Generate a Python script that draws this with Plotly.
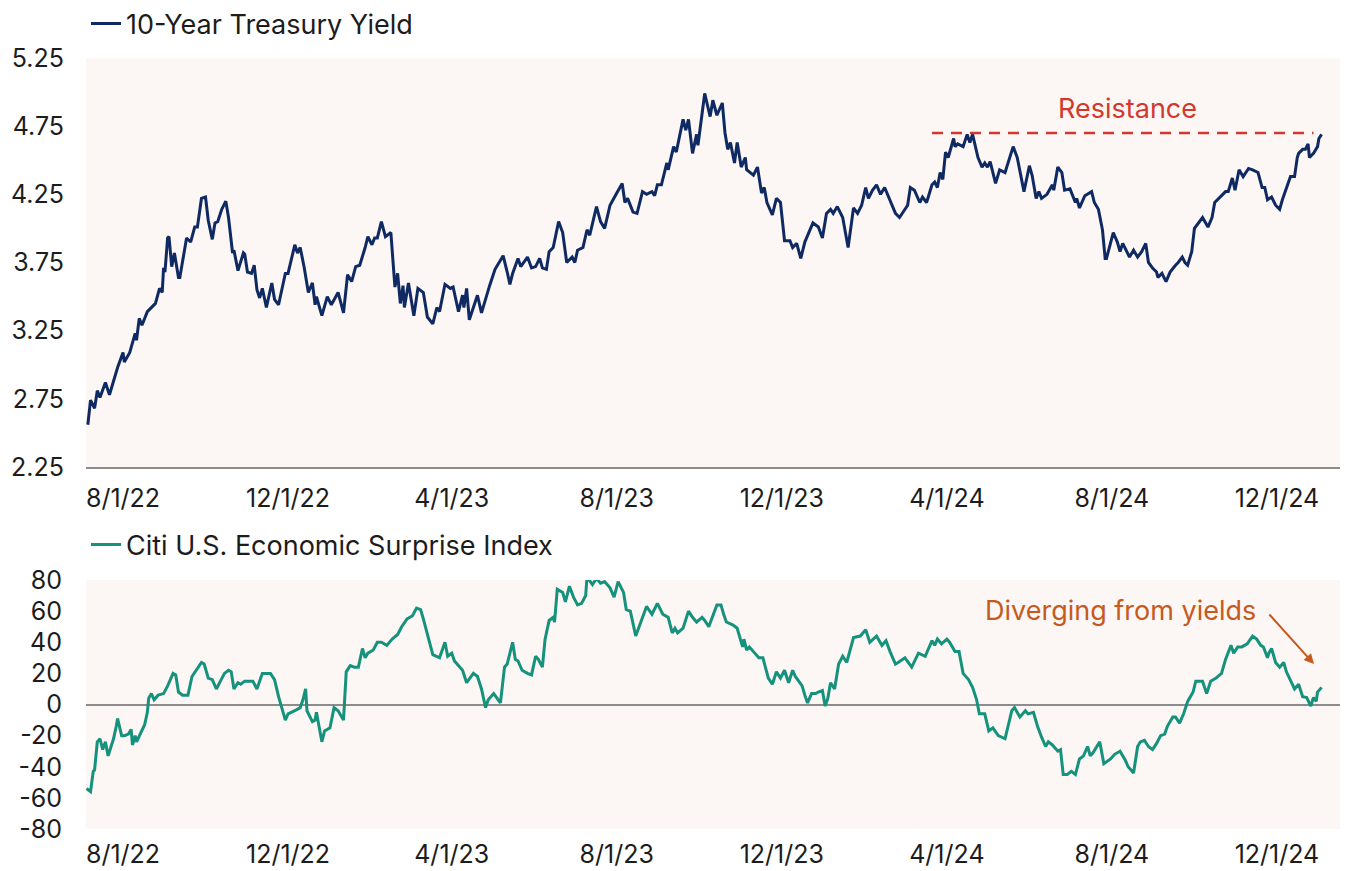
import pandas as pd
import plotly.graph_objects as go

# ---------------- data (days are offsets from 8/1/22) ----------------
base_date = "2022-08-01"

yield_days = [
    -26, -24, -21, -19, -17, -13, -10, -7, -4, 0,
    1, 5, 9, 10, 12, 14, 18, 24, 27, 29,
    30, 31, 33, 34, 36, 38, 41, 42, 47, 50,
    53, 55, 58, 61, 63, 66, 68, 70, 73, 76,
    78, 81, 82, 85, 89, 90, 92, 95, 97, 99,
    101, 103, 106, 110, 112, 115, 120, 122, 127, 129,
    131, 134, 137, 140, 142, 143, 147, 151, 154, 159,
    163, 166, 169, 172, 175, 179, 181, 184, 186, 188,
    191, 194, 198, 201, 203, 205, 207, 208, 211, 215,
    218, 222, 225, 229, 232, 234, 238, 242, 244, 248,
    251, 252, 254, 256, 262, 265, 270, 271, 275, 281,
    284, 286, 288, 292, 294, 299, 302, 305, 308, 310,
    313, 315, 318, 322, 325, 328, 332, 334, 336, 340,
    343, 345, 350, 353, 356, 360, 365, 369, 371, 373,
    377, 380, 384, 387, 391, 393, 395, 398, 402, 403,
    407, 409, 414, 416, 418, 421, 424, 425, 430, 434,
    436, 439, 443, 445, 447, 449, 452, 454, 457, 460,
    461, 466, 469, 472, 474, 476, 480, 483, 486, 489,
    493, 495, 498, 501, 504, 510, 514, 517, 520, 523,
    525, 528, 532, 536, 540, 543, 546, 549, 551, 554,
    557, 560, 563, 567, 571, 574, 580, 582, 585, 589,
    591, 594, 598, 600, 602, 604, 606, 608, 610, 614,
    615, 617, 621, 624, 626, 628, 632, 635, 637, 639,
    641, 645, 648, 652, 654, 658, 661, 666, 670, 672,
    675, 677, 679, 683, 687, 688, 691, 694, 696, 700,
    704, 705, 707, 711, 716, 718, 721, 724, 726, 727,
    732, 735, 737, 739, 744, 747, 750, 753, 756, 758,
    761, 764, 765, 768, 771, 774, 778, 780, 783, 785,
    787, 790, 792, 796, 798, 802, 805, 807, 811, 815,
    817, 820, 822, 825, 828, 832, 835, 839, 842, 844,
    846, 849, 852, 855, 857, 860, 863, 866, 868, 869,
    872, 874, 876, 877, 880, 883, 884, 886,
]
yield_vals = [
    2.56, 2.74, 2.68, 2.81, 2.76, 2.87, 2.78, 2.89, 2.98, 3.09,
    3.02, 3.09, 3.23, 3.18, 3.34, 3.29, 3.39, 3.45, 3.56, 3.53,
    3.71, 3.68, 3.93, 3.94, 3.72, 3.82, 3.64, 3.64, 3.93, 3.90,
    4.01, 4.01, 4.22, 4.23, 4.06, 3.92, 4.04, 4.05, 4.14, 4.20,
    4.08, 3.82, 3.84, 3.69, 3.82, 3.81, 3.68, 3.67, 3.73, 3.55,
    3.49, 3.56, 3.42, 3.60, 3.48, 3.44, 3.67, 3.67, 3.88, 3.82,
    3.86, 3.71, 3.53, 3.60, 3.44, 3.50, 3.36, 3.50, 3.44, 3.53,
    3.38, 3.66, 3.61, 3.72, 3.73, 3.86, 3.94, 3.88, 3.93, 3.93,
    4.05, 3.94, 3.97, 3.57, 3.67, 3.45, 3.58, 3.42, 3.60, 3.36,
    3.56, 3.53, 3.35, 3.30, 3.42, 3.39, 3.59, 3.56, 3.57, 3.39,
    3.51, 3.42, 3.56, 3.33, 3.51, 3.38, 3.55, 3.58, 3.70, 3.80,
    3.68, 3.59, 3.67, 3.78, 3.72, 3.79, 3.71, 3.72, 3.78, 3.71,
    3.70, 3.83, 3.86, 4.05, 3.97, 3.75, 3.79, 3.75, 3.84, 3.86,
    3.99, 3.95, 4.16, 4.05, 4.00, 4.17, 4.26, 4.33, 4.19, 4.22,
    4.12, 4.11, 4.27, 4.25, 4.27, 4.24, 4.32, 4.32, 4.48, 4.43,
    4.60, 4.56, 4.80, 4.72, 4.80, 4.55, 4.69, 4.61, 4.99, 4.82,
    4.94, 4.83, 4.92, 4.70, 4.58, 4.63, 4.48, 4.63, 4.45, 4.52,
    4.43, 4.39, 4.45, 4.26, 4.30, 4.19, 4.10, 4.22, 4.19, 3.91,
    3.91, 3.86, 3.89, 3.78, 3.90, 4.04, 4.01, 3.93, 4.11, 4.14,
    4.11, 4.16, 4.08, 3.86, 4.15, 4.11, 4.17, 4.30, 4.22, 4.28,
    4.32, 4.25, 4.30, 4.21, 4.11, 4.08, 4.17, 4.30, 4.28, 4.19,
    4.23, 4.19, 4.32, 4.34, 4.30, 4.41, 4.36, 4.56, 4.52, 4.66,
    4.60, 4.62, 4.60, 4.69, 4.63, 4.69, 4.52, 4.45, 4.48, 4.45,
    4.49, 4.33, 4.43, 4.41, 4.47, 4.60, 4.52, 4.27, 4.46, 4.39,
    4.22, 4.27, 4.22, 4.25, 4.32, 4.28, 4.45, 4.41, 4.28, 4.29,
    4.19, 4.22, 4.15, 4.24, 4.27, 4.19, 4.14, 3.99, 3.78, 3.78,
    3.97, 3.90, 3.83, 3.89, 3.79, 3.84, 3.79, 3.83, 3.89, 3.75,
    3.71, 3.68, 3.64, 3.67, 3.61, 3.68, 3.73, 3.75, 3.79, 3.75,
    3.73, 3.83, 4.00, 4.06, 4.08, 4.01, 4.08, 4.19, 4.23, 4.27,
    4.27, 4.37, 4.28, 4.43, 4.38, 4.44, 4.43, 4.41, 4.30, 4.30,
    4.21, 4.23, 4.17, 4.14, 4.21, 4.30, 4.38, 4.38, 4.52, 4.55,
    4.58, 4.58, 4.62, 4.52, 4.55, 4.60, 4.66, 4.69,
]

surprise_days = [
    -27, -24, -22, -21, -19, -17, -15, -13, -11, -7,
    -5, -4, -1, 1, 4, 6, 7, 9, 10, 13,
    16, 18, 19, 21, 23, 26, 30, 33, 35, 37,
    39, 41, 44, 48, 51, 55, 58, 60, 63, 66,
    69, 72, 75, 78, 80, 82, 85, 87, 90, 94,
    96, 99, 103, 106, 109, 112, 115, 120, 122, 127,
    131, 133, 135, 136, 140, 142, 143, 147, 149, 153,
    156, 159, 163, 165, 168, 171, 174, 177, 179, 181,
    185, 188, 191, 195, 199, 203, 206, 210, 214, 217,
    220, 222, 225, 226, 229, 234, 238, 240, 243, 245,
    249, 251, 254, 257, 259, 262, 265, 268, 270, 274,
    279, 282, 284, 288, 290, 292, 295, 299, 302, 305,
    307, 310, 312, 315, 318, 319, 321, 325, 327, 330,
    333, 336, 339, 342, 343, 347, 350, 353, 356, 360,
    363, 366, 370, 372, 375, 379, 384, 387, 391, 395,
    399, 403, 406, 408, 410, 414, 418, 421, 424, 428,
    430, 433, 439, 442, 444, 446, 451, 454, 458, 459,
    461, 463, 467, 470, 473, 477, 480, 483, 486, 489,
    492, 495, 497, 502, 504, 506, 509, 512, 514, 517,
    519, 521, 523, 526, 529, 532, 535, 540, 545, 549,
    552, 557, 561, 564, 567, 571, 573, 578, 583, 588,
    593, 598, 600, 602, 605, 609, 611, 615, 618, 621,
    625, 628, 631, 633, 637, 640, 643, 647, 652, 657,
    659, 663, 667, 669, 673, 676, 679, 682, 684, 687,
    691, 693, 695, 698, 701, 704, 707, 710, 713, 715,
    717, 722, 725, 730, 733, 737, 741, 743, 747, 750,
    752, 755, 758, 761, 764, 767, 770, 772, 776, 778,
    781, 784, 787, 791, 793, 798, 801, 804, 808, 812,
    815, 819, 821, 824, 827, 831, 835, 838, 841, 843,
    846, 847, 849, 852, 855, 858, 860, 864, 866, 869,
    872, 875, 878, 880, 882, 883, 886,
]
surprise_vals = [
    -54, -56, -43, -42, -24, -22, -29, -24, -33, -22,
    -14, -9, -20, -20, -19, -16, -26, -20, -24, -18,
    -13, -5, 4, 7, 3, 6, 7, 12, 16, 20,
    19, 8, 6, 6, 18, 23, 27, 26, 17, 16,
    10, 15, 20, 22, 21, 10, 14, 13, 15, 15,
    15, 10, 20, 20, 20, 16, 5, -10, -6, -4,
    -2, 3, 10, -4, -11, -10, -5, -24, -17, -15,
    -2, -4, -10, 21, 25, 24, 24, 36, 30, 33,
    35, 40, 40, 38, 42, 45, 50, 55, 57, 62,
    61, 55, 45, 42, 32, 30, 40, 31, 33, 28,
    24, 22, 14, 18, 20, 18, 10, -2, 3, 7,
    1, 24, 26, 40, 29, 28, 22, 20, 19, 31,
    29, 24, 42, 54, 56, 53, 74, 72, 66, 76,
    69, 64, 65, 70, 82, 77, 81, 78, 79, 75,
    69, 79, 72, 61, 60, 44, 56, 63, 58, 65,
    58, 56, 46, 49, 46, 49, 60, 56, 53, 56,
    54, 50, 64, 64, 58, 53, 51, 49, 37, 42,
    35, 37, 33, 30, 30, 17, 13, 21, 17, 22,
    14, 22, 18, 12, 6, 1, 7, 7, 8, 9,
    -1, 4, 14, 10, 26, 31, 27, 43, 44, 48,
    40, 44, 38, 41, 34, 26, 27, 30, 24, 33,
    31, 41, 38, 42, 39, 42, 40, 34, 34, 20,
    16, 11, 3, -6, -6, -17, -15, -20, -22, -4,
    -2, -8, -4, -6, -5, -14, -21, -27, -24, -26,
    -30, -29, -45, -45, -43, -45, -35, -33, -27, -33,
    -31, -24, -38, -35, -32, -30, -36, -40, -44, -27,
    -24, -23, -27, -29, -25, -20, -19, -14, -8, -8,
    -12, -6, 2, 8, 15, 15, 7, 15, 17, 20,
    29, 38, 33, 37, 37, 39, 44, 42, 38, 37,
    30, 33, 36, 27, 24, 27, 21, 14, 10, 13,
    5, 4.5, -1, 4.5, 2, 8, 11,
]

resistance_level = 4.70
resistance_days = [598, 880]

tick_dates = ["2022-08-01", "2022-12-01", "2023-04-01", "2023-08-01",
              "2023-12-01", "2024-04-01", "2024-08-01", "2024-12-01"]
tick_labels = ["8/1/22", "12/1/22", "4/1/23", "8/1/23",
               "12/1/23", "4/1/24", "8/1/24", "12/1/24"]

yield_ticks = [2.25, 2.75, 3.25, 3.75, 4.25, 4.75, 5.25]
surprise_ticks = [-80, -60, -40, -20, 0, 20, 40, 60, 80]

# ---------------- style ----------------
NAVY = "#0f2a62"
TEAL = "#14927b"
RED = "#d2382d"
ORANGE = "#c65a1e"
BG = "#fcf6f4"
AXIS = "#8c8c8c"
TEXT = "#1c1c1c"
FONT = "Inter"

W, H = 1349, 871
L, R = 86, 9
PW = W - L - R

base = pd.Timestamp(base_date)


def to_dates(days):
    return base + pd.to_timedelta(days, unit="D")


def py(px):
    return 1 - px / H


def px_x(px):
    return (px - L) / PW


x_range = [base + pd.Timedelta(days=-27.35), base + pd.Timedelta(days=899.6)]

fig = go.Figure()
fig.add_trace(go.Scatter(
    x=to_dates(yield_days), y=yield_vals, mode="lines",
    line=dict(color=NAVY, width=3), name="10-Year Treasury Yield",
    legend="legend", xaxis="x", yaxis="y"))
fig.add_trace(go.Scatter(
    x=to_dates(resistance_days), y=[resistance_level] * len(resistance_days),
    mode="lines", line=dict(color=RED, width=2.5, dash="11px,8px"),
    showlegend=False, xaxis="x", yaxis="y"))
fig.add_trace(go.Scatter(
    x=to_dates(surprise_days), y=surprise_vals, mode="lines",
    line=dict(color=TEAL, width=3), name="Citi U.S. Economic Surprise Index",
    legend="legend2", xaxis="x2", yaxis="y2"))

tick_font = dict(family=FONT, size=25, color=TEXT)
big_font = 27

xaxis_common = dict(
    type="date", range=x_range, tickmode="array",
    tickvals=pd.to_datetime(tick_dates), ticktext=tick_labels,
    ticks="outside", tickcolor="rgba(0,0,0,0)",
    tickfont=tick_font, showgrid=False, zeroline=False,
    domain=[0, 1], automargin=False,
)

fig.update_layout(
    width=W, height=H,
    margin=dict(l=L, r=R, t=0, b=0, autoexpand=False),
    paper_bgcolor="white", plot_bgcolor=BG,
    font=dict(family=FONT, color=TEXT),
    xaxis=dict(**xaxis_common, ticklen=8, anchor="y", showline=True,
               linecolor=AXIS, linewidth=1.5),
    yaxis=dict(domain=[py(467), py(58)], range=[2.25, 5.25], tickmode="array",
               tickvals=yield_ticks, ticktext=[f"{v:.2f}" for v in yield_ticks],
               ticks="outside", ticklen=16, tickcolor="rgba(0,0,0,0)",
               tickfont=tick_font, showgrid=False, zeroline=False, showline=False,
               automargin=False),
    xaxis2=dict(**xaxis_common, ticklen=3, anchor="y2", showline=False),
    yaxis2=dict(domain=[py(829), py(580)], range=[-80, 80], tickmode="array",
                tickvals=surprise_ticks, ticktext=[str(v) for v in surprise_ticks],
                ticks="outside", ticklen=18, tickcolor="rgba(0,0,0,0)",
                tickfont=tick_font, showgrid=False, zeroline=True,
                zerolinecolor=AXIS, zerolinewidth=1.5, showline=False,
                automargin=False),
    legend=dict(x=0.0, y=py(24), xanchor="left", yanchor="middle",
                font=dict(family=FONT, size=big_font, color=TEXT),
                bgcolor="rgba(0,0,0,0)", itemwidth=30),
    legend2=dict(x=0.0, y=py(545), xanchor="left", yanchor="middle",
                 font=dict(family=FONT, size=big_font, color=TEXT),
                 bgcolor="rgba(0,0,0,0)", itemwidth=30),
    showlegend=True,
)

fig.add_annotation(xref="paper", yref="paper", x=px_x(1127), y=py(108),
                   xanchor="center", yanchor="middle",
                   text="Resistance", showarrow=False,
                   font=dict(family=FONT, size=big_font, color=RED))
fig.add_annotation(xref="paper", yref="paper", x=px_x(1120), y=py(610),
                   xanchor="center", yanchor="middle",
                   text="Diverging from yields", showarrow=False,
                   font=dict(family=FONT, size=big_font, color=ORANGE))
fig.add_annotation(xref="paper", yref="paper", x=px_x(1314), y=py(664),
                   ax=-46, ay=-51, text="", showarrow=True,
                   arrowhead=2, arrowsize=1, arrowwidth=2, arrowcolor=ORANGE)

# remove the default 8px page margin so the figure sits at the window's corner
fig.write_html("out.html", config={"displayModeBar": False},
               post_script="document.body.style.margin='0';")
